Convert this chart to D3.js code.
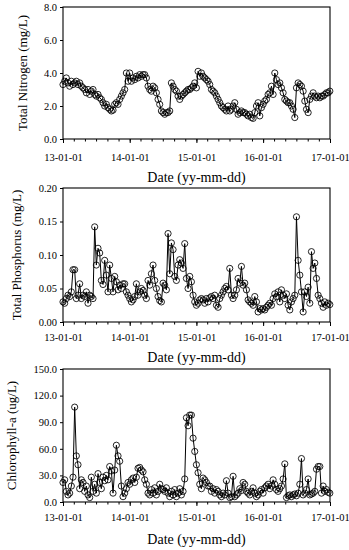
<!DOCTYPE html>
<meta charset="utf-8">
<script src="https://d3js.org/d3.v7.min.js"></script>
<style>
  body { margin: 0; background: #fff; }
  text { font-family: "Liberation Serif", "Times New Roman", serif; fill: #000; }
</style>
<div id="chart"></div>
<script>
  // samples, one every 219 hours starting 2013-01-01
  const sampleStart = Date.UTC(2013, 0, 1);
  const sampleStepHours = 219;

  const tnValues = [
    3.3, 3.5, 3.7, 3.4, 3.2, 3.5, 3.3, 3.4, 3.5, 3.3,
    3.4, 3.2, 3.1, 3.0, 2.8, 3.0, 2.7, 2.9, 3.0, 2.7,
    2.6, 2.7, 2.5, 2.4, 2.2, 2.0, 2.1, 1.9, 1.8, 1.7,
    1.75, 2.1, 2.2, 2.1, 2.4, 2.6, 2.8, 3.0, 4.0, 3.5,
    4.0, 3.5, 3.7, 3.6, 3.8, 3.7, 3.9, 3.8, 3.9, 3.9,
    3.7, 3.2, 3.0, 2.9, 3.2, 3.1, 2.8, 2.4, 2.1, 1.7,
    1.6, 1.5, 1.6, 1.6, 1.7, 3.4, 3.2, 3.0, 2.9, 2.6,
    2.4, 2.6, 2.7, 2.8, 2.9, 3.0, 3.0, 3.1, 3.2, 3.4,
    3.1, 4.1, 3.8, 4.0, 3.8, 3.7, 3.6, 3.5, 3.3, 3.0,
    2.9, 2.8, 2.6, 2.4, 2.2, 2.0, 1.9, 1.8, 1.7, 2.0,
    1.7, 1.8, 2.0, 2.2, 1.8, 1.5, 1.6, 1.7, 1.6, 1.6,
    1.5, 1.4, 1.5, 1.3, 1.25, 1.6, 2.0, 2.2, 1.4, 1.9,
    2.1, 2.3, 2.4, 2.7, 2.8, 3.2, 2.7, 4.0, 3.6, 3.3,
    3.4, 3.1, 2.8, 2.4, 2.3, 2.2, 2.2, 2.0, 1.8, 1.3,
    3.1, 3.4, 3.3, 3.2, 2.9, 2.3, 1.8, 1.6, 2.4, 2.6,
    2.8, 2.6, 2.5, 2.6, 2.5, 2.6, 2.6, 2.7, 2.8, 2.8,
    2.9
  ];

  const tpValues = [
    0.030, 0.028, 0.035, 0.040, 0.038, 0.045, 0.078, 0.078, 0.035, 0.040,
    0.057, 0.035, 0.040, 0.038, 0.045, 0.028, 0.040, 0.038, 0.035, 0.142,
    0.085, 0.110, 0.103, 0.062, 0.056, 0.092, 0.070, 0.045, 0.085, 0.065,
    0.045, 0.068, 0.060, 0.048, 0.055, 0.050, 0.057, 0.057, 0.045, 0.040,
    0.035, 0.030, 0.033, 0.038, 0.057, 0.040, 0.045, 0.050, 0.047, 0.040,
    0.035, 0.062, 0.055, 0.072, 0.085, 0.062, 0.050, 0.038, 0.032, 0.030,
    0.058, 0.055, 0.048, 0.132, 0.072, 0.118, 0.108, 0.068, 0.062, 0.085,
    0.093, 0.088, 0.080, 0.117, 0.065, 0.050, 0.068, 0.060, 0.040, 0.030,
    0.025, 0.028, 0.033, 0.035, 0.033, 0.028, 0.035, 0.030, 0.036, 0.038,
    0.035, 0.040, 0.025, 0.022, 0.035, 0.040, 0.045, 0.050, 0.053, 0.048,
    0.080, 0.040, 0.035, 0.040, 0.048, 0.065, 0.058, 0.083, 0.055, 0.058,
    0.048, 0.033, 0.030, 0.028, 0.025, 0.038, 0.030, 0.015, 0.020, 0.018,
    0.020, 0.018, 0.022, 0.025, 0.028, 0.025, 0.035, 0.042, 0.038, 0.045,
    0.030, 0.048, 0.040, 0.035, 0.042, 0.025, 0.018, 0.030, 0.035, 0.040,
    0.157, 0.092, 0.070, 0.045, 0.015, 0.045, 0.038, 0.052, 0.028, 0.105,
    0.080, 0.088, 0.065, 0.040, 0.035, 0.028, 0.022, 0.030, 0.025, 0.028,
    0.026
  ];

  const chlValues = [
    22, 25, 12, 8, 10, 18, 28, 107, 52, 42,
    15, 25, 22, 12, 18, 8, 5, 28, 12, 20,
    10, 32, 22, 15, 28, 24, 30, 25, 40, 35,
    10, 36, 64, 52, 46, 18, 6, 10, 15, 22,
    20, 25, 27, 22, 28, 38, 39, 36, 34, 25,
    20, 10, 8, 14, 10, 16, 8, 12, 20, 15,
    14, 12, 16, 10, 6, 12, 8, 14, 6, 10,
    15, 8, 12, 26, 95, 86, 98, 98, 72, 57,
    42, 33, 20, 15, 27, 25, 22, 18, 18, 12,
    15, 10, 14, 12, 8, 6, 10, 8, 24, 10,
    5, 6, 29, 6, 8, 10, 15, 13, 22, 20,
    12, 10, 8, 12, 16, 10, 6, 8, 12, 14,
    10, 16, 18, 20, 15, 18, 25, 20, 14, 12,
    15, 18, 26, 43, 5, 7, 8, 6, 8, 9,
    7, 10, 20, 49, 8, 10, 14, 26, 8, 9,
    10, 12, 37, 40, 40, 10, 18, 12, 14, 11,
    10
  ];

  const tnTicks = [0, 2, 4, 6, 8];
  const tpTicks = [0, 0.05, 0.10, 0.15, 0.20];
  const chlTicks = [0, 30, 60, 90, 120, 150];
  const yearTicks = ["2013-01-01", "2014-01-01", "2015-01-01", "2016-01-01", "2017-01-01"];
  const xTitle = "Date (yy-mm-dd)";

  const width = 349, height = 550;
  const left = 63, right = 330;

  const svg = d3.select("#chart")
    .append("svg")
    .attr("width", width)
    .attr("height", height);

  const x = d3.scaleUtc()
    .domain([new Date(Date.UTC(2013, 0, 1)), new Date(Date.UTC(2017, 0, 1))])
    .range([left, right]);

  const panels = [
    {values: tnValues, ticks: tnTicks, fmt: ".1f", label: "Total Nitrogen (mg/L)",
     top: 7, bottom: 139, labelX: 22, tickY: 157, titleY: 182},
    {values: tpValues, ticks: tpTicks, fmt: ".2f", label: "Total Phosphorus (mg/L)",
     top: 188, bottom: 322, labelX: 16, tickY: 337, titleY: 362},
    {values: chlValues, ticks: chlTicks, fmt: ".1f", label: "Chlorophyll-a (ug/L)",
     top: 369, bottom: 502, labelX: 11, tickY: 517, titleY: 544}
  ];

  panels.forEach(function(p) {
    const data = p.values.map(function(v, i) {
      return {date: d3.utcHour.offset(new Date(sampleStart), i * sampleStepHours), value: v};
    });

    const y = d3.scaleLinear()
      .domain(d3.extent(p.ticks))
      .range([p.bottom, p.top]);

    const g = svg.append("g");

    // minor ticks every two months
    g.append("g")
      .attr("transform", "translate(0," + p.bottom + ")")
      .call(d3.axisBottom(x).ticks(d3.utcMonth.every(2)).tickSize(2.5).tickFormat(""))
      .call(function(a) { a.select(".domain").remove(); });

    // year ticks with labels
    g.append("g")
      .attr("transform", "translate(0," + p.bottom + ")")
      .call(d3.axisBottom(x)
        .tickValues(yearTicks.map(function(d) { return new Date(d + "T00:00:00Z"); }))
        .tickFormat(d3.utcFormat("%y-%m-%d"))
        .tickSize(4))
      .call(function(a) {
        a.select(".domain").remove();
        a.selectAll("text")
          .attr("y", null)
          .attr("dy", null)
          .attr("transform", "translate(0," + (p.tickY - p.bottom + 3.5) + ")")
          .style("font-size", "10.5px");
      });

    g.append("g")
      .attr("transform", "translate(" + left + ",0)")
      .call(d3.axisLeft(y).tickValues(p.ticks).tickFormat(d3.format(p.fmt)).tickSize(3).tickPadding(3))
      .call(function(a) {
        a.select(".domain").remove();
        a.selectAll("text").style("font-size", "10.5px");
      });

    // frame
    g.append("rect")
      .attr("x", left)
      .attr("y", p.top)
      .attr("width", right - left)
      .attr("height", p.bottom - p.top)
      .attr("fill", "none")
      .attr("stroke", "#000")
      .attr("stroke-width", 1.1);

    const line = d3.line()
      .x(function(d) { return x(d.date); })
      .y(function(d) { return y(d.value); });

    g.append("path")
      .datum(data)
      .attr("d", line)
      .attr("fill", "none")
      .attr("stroke", "#000")
      .attr("stroke-width", 1);

    g.append("g")
      .selectAll("circle")
      .data(data)
      .enter()
      .append("circle")
      .attr("cx", function(d) { return x(d.date); })
      .attr("cy", function(d) { return y(d.value); })
      .attr("r", 3.1)
      .attr("fill", "none")
      .attr("stroke", "#000")
      .attr("stroke-width", 0.85);

    g.append("text")
      .attr("transform", "translate(" + p.labelX + "," + ((p.top + p.bottom) / 2) + ") rotate(-90)")
      .attr("text-anchor", "middle")
      .attr("dy", "0.35em")
      .style("font-size", "13px")
      .text(p.label);

    g.append("text")
      .attr("x", (left + right) / 2)
      .attr("y", p.titleY)
      .attr("text-anchor", "middle")
      .style("font-size", "14px")
      .text(xTitle);
  });
</script>
